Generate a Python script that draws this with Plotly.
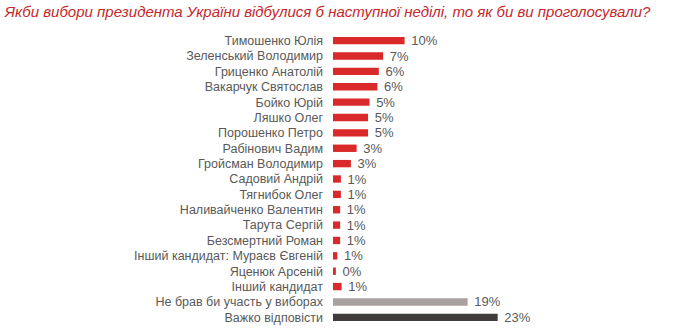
import plotly.graph_objects as go

categories = [
    "Тимошенко Юлія", "Зеленський Володимир", "Гриценко Анатолій",
    "Вакарчук Святослав", "Бойко Юрій", "Ляшко Олег", "Порошенко Петро",
    "Рабінович Вадим", "Гройсман Володимир", "Садовий Андрій",
    "Тягнибок Олег", "Наливайченко Валентин", "Тарута Сергій",
    "Безсмертний Роман", "Інший кандидат: Мураєв Євгеній",
    "Яценюк Арсеній", "Інший кандидат", "Не брав би участь у виборах",
    "Важко відповісти",
]
values = [10.0, 7.0, 6.4, 6.2, 5.1, 4.9, 4.9, 3.3, 2.5, 1.1, 1.1, 1.0, 1.0,
          1.0, 0.6, 0.4, 1.2, 18.8, 23.0]
labels = ["10%", "7%", "6%", "6%", "5%", "5%", "5%", "3%", "3%", "1%", "1%",
          "1%", "1%", "1%", "1%", "0%", "1%", "19%", "23%"]
groups = ["cand"] * 17 + ["abstain", "hard"]

color_map = {"cand": "#d9292a", "abstain": "#a8a19f", "hard": "#403c3b"}
colors = [color_map[g] for g in groups]

font = "Liberation Sans, Arial, sans-serif"

fig = go.Figure(go.Bar(
    x=values, y=categories, orientation="h",
    marker=dict(color=colors, line=dict(width=0)),
    text=labels, texttemplate=" %{text}",
    textposition="outside", constraintext="none",
    textfont=dict(family=font, size=13, color="#595959"),
    cliponaxis=False, hoverinfo="skip",
))

fig.update_layout(
    width=690, height=333,
    margin=dict(l=333, r=178, t=33, b=8),
    paper_bgcolor="white", plot_bgcolor="white",
    bargap=0.52,
    showlegend=False,
    uniformtext=dict(mode=False),
    title=dict(
        text="<i>Якби вибори президента України відбулися б наступної неділі, то як би ви проголосували?</i>",
        x=0.007, xanchor="left", y=0.965, yanchor="middle",
        font=dict(family=font, size=15, color="#c5282c"),
    ),
    xaxis=dict(range=[0, 25], visible=False),
    yaxis=dict(
        autorange="reversed", showgrid=False, showline=False, zeroline=False,
        ticks="", ticklabelstandoff=9,
        tickfont=dict(family=font, size=12.5, color="#595959"),
    ),
)

fig.write_html("out.html")
